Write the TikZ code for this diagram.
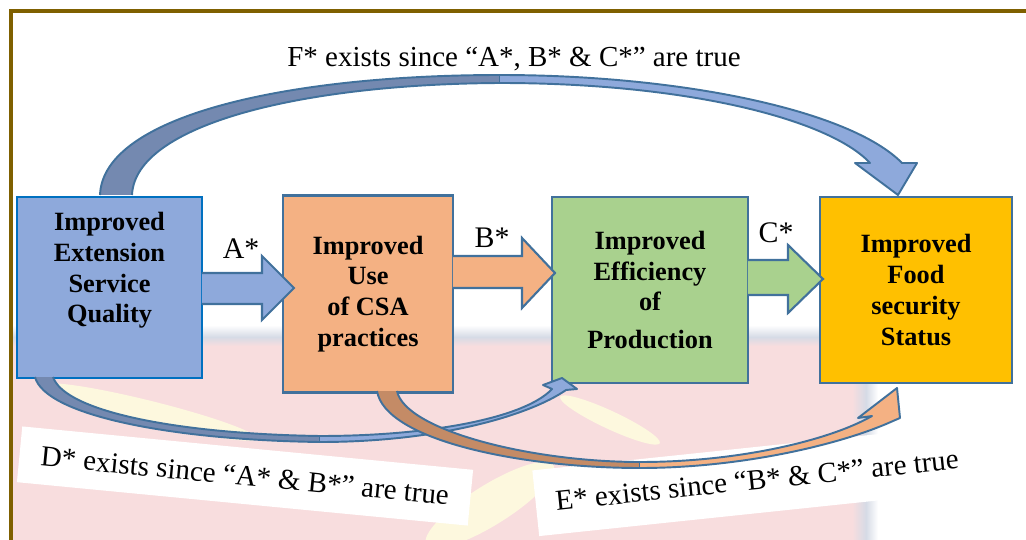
\documentclass[tikz,border=0pt]{standalone}
\usepackage{fontspec}
\setmainfont{Liberation Serif}
\definecolor{frameolive}{RGB}{127,96,0}
\definecolor{boxline}{RGB}{65,113,156}
\definecolor{extline}{RGB}{0,112,192}
\definecolor{extblue}{RGB}{142,169,219}
\definecolor{extdark}{RGB}{116,137,176}
\definecolor{csaorange}{RGB}{244,177,131}
\definecolor{csadark}{RGB}{196,139,102}
\definecolor{effgreen}{RGB}{169,209,142}
\definecolor{foodgold}{RGB}{255,192,0}
\definecolor{wmpink}{RGB}{248,221,222}
\definecolor{wmgrey}{RGB}{214,219,230}
\definecolor{wmyellow}{RGB}{253,248,222}
\newcommand{\boxfont}{\fontsize{15}{17.5}\selectfont\bfseries}
\tikzset{
  box/.style={
    draw=boxline,
    line width=1.2pt,
    align=center,
    font=\boxfont,
    inner sep=0pt,
    outer sep=0pt
  },
  fat/.style={draw=boxline, line width=1.2pt, line join=miter},
  ribbon/.style={draw=boxline, line width=1.1pt, line join=round},
  steplabel/.style={font=\fontsize{17}{20}\selectfont, inner sep=0pt},
  note/.style={font=\fontsize{16.5}{19}\selectfont, inner sep=0pt},
  notecard/.style={note, fill=white},
  blob/.style={fill=wmyellow}
}

\begin{document}
\begin{tikzpicture}[x=0.02cm, y=-0.02cm]
  \useasboundingbox (0,0) rectangle (1026,540);
  % Watermark behind the lower half
  \fill[wmpink] (12,342) rectangle (862,540);
  \shade[top color=white, bottom color=wmgrey] (12,325) rectangle (866,337);
  \shade[top color=wmgrey, bottom color=wmpink] (12,337) rectangle (866,346);
  \shade[left color=wmpink, right color=wmgrey] (852,342) rectangle (866,540);
  \shade[left color=wmgrey, right color=white] (866,342) rectangle (878,540);
  \fill[blob, rotate around={-14:(150,412)}] (150,412) ellipse (2.2cm and 0.22cm);
  \fill[blob, rotate around={32:(490,505)}] (490,505) ellipse (1.5cm and 0.4cm);
  \fill[blob, rotate around={-25:(610,420)}] (610,420) ellipse (1.1cm and 0.18cm);
  % Frame
  \draw[frameolive, line width=2.3pt] (11,545) -- (11,11) -- (1035,11);
  % Text cards below
  \node[notecard, rotate=-5.5, minimum width=9.06cm, minimum height=1.12cm]
    (d) at (245,476) {D* exists since “A* \& B*” are true};
  \node[notecard, rotate=6, minimum width=8.9cm, minimum height=1.32cm]
    (e) at (757,480) {E* exists since “B* \& C*” are true};
  % The four boxes
  \node[box, draw=extline, fill=extblue, minimum width=3.7cm, minimum height=3.62cm]
    (ext) at (109.5,287.5) {Improved\\Extension\\Service\\Quality\\[5pt]\mbox{}};
  \node[box, fill=csaorange, minimum width=3.4cm, minimum height=3.94cm]
    (use) at (368,294) {Improved\\Use\\of CSA\\practices};
  \node[box, fill=effgreen, minimum width=3.92cm, minimum height=3.72cm]
    (eff) at (650,290) {Improved\\Efficiency\\of\\[4pt]Production};
  \node[box, fill=foodgold, minimum width=3.84cm, minimum height=3.72cm]
    (food) at (916,290) {Improved\\Food\\security\\Status};
  % Straight block arrows
  \draw[fat, fill=extblue] (ext.east |- 0,273) -- (262,273) -- (262,256) -- (294,288)
    -- (262,320) -- (262,304) -- (ext.east |- 0,304);
  \draw[fat, fill=csaorange] (use.east |- 0,256) -- (522,256) -- (522,238) -- (555,273)
    -- (522,308) -- (522,288) -- (use.east |- 0,288);
  \draw[fat, fill=effgreen] (eff.east |- 0,260) -- (788,260) -- (788,245) -- (823,279)
    -- (788,313) -- (788,295) -- (eff.east |- 0,295);
  \node[steplabel] (a) at (241,249) {A*};
  \node[steplabel] (b) at (492,238) {B*};
  \node[steplabel] (c) at (776,233) {C*};
  % F: curved arrow over the top
  \draw[ribbon, fill=extdark] (100,195) .. controls (103,115) and (290,75) .. (500,75)
    -- (500,83) .. controls (300,84) and (135,125) .. (132,195);
  \draw[ribbon, fill=extblue] (500,75) .. controls (680,75) and (850,110) .. (902,163)
    -- (917,163) -- (898,195) -- (855,163) -- (870,163)
    .. controls (830,120) and (690,83) .. (500,83);
  \node[note] (f) at (514,59) {F* exists since “A*, B* \& C*” are true};
  % D: curved arrow under, ext to eff
  \draw[ribbon, fill=extdark] (35,377) .. controls (45,415) and (170,440) .. (320,442)
    -- (320,436) .. controls (180,434) and (65,412) .. (53,377);
  \draw[ribbon, fill=extblue] (320,442) .. controls (440,442) and (530,415) .. (566,390)
    -- (577,389) -- (562,378) -- (543,385) -- (552,389)
    .. controls (525,418) and (430,436) .. (320,436);
  % E: curved arrow under, use to food
  \draw[ribbon, fill=csadark] (377,391) .. controls (385,440) and (520,468) .. (640,468)
    -- (640,462) .. controls (530,462) and (405,430) .. (397,391);
  \draw[ribbon, fill=csaorange] (640,468) .. controls (740,468) and (840,445) .. (893,421)
    -- (900,418) -- (897,388) -- (858,418) -- (872,416)
    .. controls (830,440) and (740,462) .. (640,462);
\end{tikzpicture}
\end{document}
